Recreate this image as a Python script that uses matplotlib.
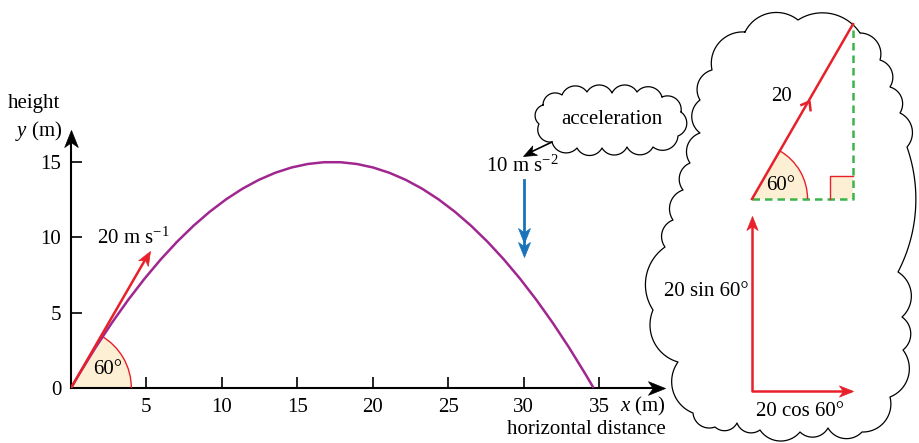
import numpy as np
import matplotlib.pyplot as plt
from matplotlib.path import Path
from matplotlib.markers import MarkerStyle
from matplotlib.transforms import Affine2D
from matplotlib.patches import Wedge, Arc, Rectangle, PathPatch

plt.rcParams['font.family'] = ['Liberation Serif', 'DejaVu Serif']
plt.rcParams['font.size'] = 15
plt.rcParams['mathtext.fontset'] = 'custom'
plt.rcParams['mathtext.rm'] = 'Liberation Serif'
plt.rcParams['mathtext.it'] = 'Liberation Serif:italic'

# trajectory: launch, highest point, landing (metres)
traj_x = [0, 17.32, 34.64]
traj_y = [0, 15.0, 0]
xticks = [5, 10, 15, 20, 25, 30, 35]
yticks = [0, 5, 10, 15]

speed = 20          # m/s
angle_deg = 60      # launch angle
accel = 10          # m/s^2
accel_x = 30        # where the acceleration arrow sits
vel_arrow_len = 10.5

RED = '#e8202a'
PURPLE = '#a0278f'
BLUE = '#1a73ba'
GREEN = '#3bb54a'
CREAM = '#fdefd3'

STEALTH = Path([(0, 0), (-1, 0.4), (-0.72, 0), (-1, -0.4), (0, 0)],
               [Path.MOVETO, Path.LINETO, Path.LINETO, Path.LINETO, Path.CLOSEPOLY])
CHEVRON = Path([(-1, 0.75), (0, 0), (-1, -0.75)],
               [Path.MOVETO, Path.LINETO, Path.LINETO])


def head(ax, x, y, angle, length, color, path=STEALTH, **kw):
    # arrow head as a rotated marker, length in pixels
    m = MarkerStyle(path, transform=Affine2D().rotate_deg(angle))
    style = dict(color=color, linestyle='none', clip_on=False, mew=0.5, zorder=5)
    style.update(kw)
    ax.plot([x], [y], marker=m, markersize=2 * length * 0.72, **style)


def cloud(ax, pts, ratio=0.25, max_sag=10, **kw):
    pts = np.asarray(pts, float)
    c = pts.mean(axis=0)
    xs, ys = [], []
    for i in range(len(pts)):
        p, q = pts[i], pts[(i + 1) % len(pts)]
        d = q - p
        L = np.hypot(*d)
        n = np.array([d[1], -d[0]]) / L
        mid = (p + q) / 2
        if np.dot(n, mid - c) < 0:
            n = -n
        s = min(ratio * L, max_sag)
        R = (L * L / 4 + s * s) / (2 * s)
        cen = mid - n * (R - s)
        a1 = np.arctan2(*(p - cen)[::-1])
        a2 = np.arctan2(*(q - cen)[::-1])
        da = (a2 - a1 + np.pi) % (2 * np.pi) - np.pi
        t = a1 + da * np.linspace(0, 1, 25)
        xs.extend(cen[0] + R * np.cos(t))
        ys.extend(cen[1] + R * np.sin(t))
    ax.plot(xs + xs[:1], ys + ys[:1], color='k', lw=0.9, **kw)


fig = plt.figure(figsize=(9.2, 4.43), dpi=100)

# ---- main trajectory plot ----
PX, PY = 15.086, 15.067
ax = fig.add_axes([71 / 920, 55 / 443, 594 / 920, 258 / 443])
xmax, ymax = 594 / PX, 258 / PY
ax.set_xlim(0, xmax)
ax.set_ylim(0, ymax)
for s in ax.spines.values():
    s.set_visible(False)
ax.patch.set_visible(False)
ax.set_xticks(xticks)
ax.set_yticks(yticks)
ax.tick_params(direction='in', length=8, width=1.2, pad=7, labelsize=15)

ax.plot([0, xmax - 0.5], [0, 0], color='k', lw=1.5, clip_on=False)
ax.plot([0, 0], [0, ymax - 0.5], color='k', lw=1.5, clip_on=False)
head(ax, xmax, 0, 0, 17, 'k')
head(ax, 0, ymax, 90, 17, 'k')

ax.add_patch(Wedge((0, 0), 4, 0, angle_deg, facecolor=CREAM, edgecolor='none', zorder=1))
ax.add_patch(Arc((0, 0), 8, 8, theta1=0, theta2=angle_deg, color=RED, lw=1, zorder=2))
ax.text(2.45, 1.25, '60°', ha='center', va='center')

# parabola as one quadratic Bezier: control point sits at twice the peak height
ctrl = (traj_x[1], 2 * traj_y[1])
traj = Path([(traj_x[0], traj_y[0]), ctrl, (traj_x[2], traj_y[2])],
            [Path.MOVETO, Path.CURVE3, Path.CURVE3])
ax.add_patch(PathPatch(traj, facecolor='none', edgecolor=PURPLE, lw=1.8, zorder=3))

th = np.radians(angle_deg)
tip = (vel_arrow_len * np.cos(th), vel_arrow_len * np.sin(th))
ax.plot([0, tip[0] * 0.95], [0, tip[1] * 0.95], color=RED, lw=1.8, zorder=4)
head(ax, tip[0], tip[1], angle_deg, 14, RED)
ax.text(1.72, 9.96, r'%d m s$^{-1}$' % speed, ha='left', va='center')

ax.plot([accel_x, accel_x], [13.8, 9.2], color=BLUE, lw=2)
head(ax, accel_x, 9.62, -90, 15, BLUE)
head(ax, accel_x, 8.69, -90, 15, BLUE)
ax.text(accel_x - 0.1, 14.72, r'%d m s$^{-2}$' % accel, ha='center', va='center')

# ---- overlay in pixel units: axis titles, clouds ----
ov = fig.add_axes([0, 0, 1, 1])
ov.set_xlim(0, 920)
ov.set_ylim(443, 0)
ov.axis('off')
ov.patch.set_visible(False)

ov.text(8, 103, 'height', ha='left', va='center')
ov.text(62, 131, r'$y$ (m)', ha='right', va='center')
ov.text(666, 406, r'$x$ (m)', ha='right', va='center')
ov.text(586, 429, 'horizontal distance', ha='center', va='center')

cloud(ov, [(543, 105), (562, 95), (587, 92), (612, 93), (637, 92), (662, 97),
           (681, 112), (678, 136), (653, 147), (627, 147), (602, 148),
           (577, 148), (552, 142), (539, 124)], ratio=0.3)
ov.text(612, 119, 'acceleration', ha='center', va='center')
ov.plot([552, 531], [142, 152], color='k', lw=1.2)
head(ov, 523, 156, 206.6, 13, 'k')

cloud(ov, [(745, 32), (798, 20), (860, 33), (880, 60), (890, 87), (900, 113),
           (907, 147), (898, 272), (902, 317), (903, 350), (890, 397),
           (862, 432), (828, 428), (800, 432), (760, 430), (737, 423),
           (715, 427), (693, 413), (678, 362), (653, 310), (665, 247),
           (673, 220), (683, 190), (690, 163), (700, 133), (700, 100),
           (712, 70)], ratio=0.25, max_sag=13)

# ---- vector diagram (units of m/s) ----
S = 10.1
vx = fig.add_axes([700 / 920, 13 / 443, 200 / 920, 420 / 443])
vx.set_xlim(-52 / S, 148 / S)
vx.set_ylim(-231 / S, 189 / S)
vx.axis('off')
vx.patch.set_visible(False)

cx, cy = speed * np.cos(th), speed * np.sin(th)
vx.plot([0, cx, cx], [0, 0, cy], color=GREEN, lw=1.8, ls=(0, (3, 2)), zorder=2)
vx.add_patch(Wedge((0, 0), 5.5, 0, angle_deg, facecolor=CREAM, edgecolor='none', zorder=1))
vx.add_patch(Arc((0, 0), 11, 11, theta1=0, theta2=angle_deg, color=RED, lw=1, zorder=2))
sq = 2.3
vx.add_patch(Rectangle((cx - sq, 0), sq, sq, facecolor=CREAM, edgecolor='none', zorder=1))
vx.plot([cx - sq, cx - sq, cx], [0, sq, sq], color=RED, lw=1, zorder=2)
vx.plot([0, cx], [0, cy], color=RED, lw=1.8, zorder=3)
head(vx, 0.56 * cx, 0.56 * cy, angle_deg, 8, RED, path=CHEVRON,
     mfc='none', mec=RED, mew=1.8)
vx.text(2.97, 10.1, '%d' % speed, ha='center', va='center')
vx.text(2.8, 1.35, '60°', ha='center', va='center')

oy = -19.0
vx.plot([0, 0, cx * 0.97], [cy * 0.95 + oy, oy, oy], color=RED, lw=1.8, zorder=3)
head(vx, 0, oy + cy, 90, 14, RED)
head(vx, cx, oy, 0, 14, RED)
vx.text(-4.55, -9.2, '%d sin 60°' % speed, ha='center', va='center')
vx.text(4.75, -21.0, '%d cos 60°' % speed, ha='center', va='center')

fig.savefig('out.png', dpi=100)
